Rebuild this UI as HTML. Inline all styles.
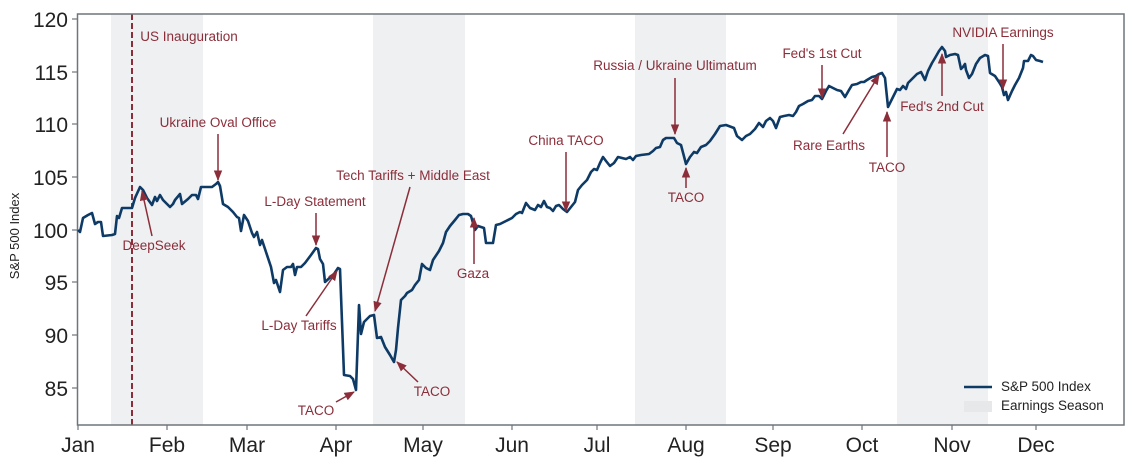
<!DOCTYPE html>
<html><head><meta charset="utf-8"><style>body{margin:0;background:#fff}svg{display:block}text{font-family:"Liberation Sans",sans-serif}</style></head>
<body>
<svg width="1132" height="466" viewBox="0 0 1132 466" xmlns="http://www.w3.org/2000/svg">
<defs><marker id="ah" viewBox="0 0 10 10" refX="9" refY="5" markerWidth="7" markerHeight="7" orient="auto-start-reverse"><path d="M0,1 L10,5 L0,9 z" fill="#8b2e3a"/></marker></defs>
<g fill="#eef0f2">
<rect x="111" y="14" width="92" height="411"/>
<rect x="373" y="14" width="92" height="411"/>
<rect x="635" y="14" width="91" height="411"/>
<rect x="897" y="14" width="91" height="411"/>
</g>
<line x1="132" y1="14" x2="132" y2="425" stroke="#8b2e3a" stroke-width="2" stroke-dasharray="6,3"/>
<rect x="77.5" y="14" width="1046.5" height="411" fill="none" stroke="#6f757b" stroke-width="1.5"/>
<g stroke="#6f757b" stroke-width="1.2">
<line x1="72" y1="19" x2="77" y2="19"/><line x1="72" y1="72" x2="77" y2="72"/><line x1="72" y1="124" x2="77" y2="124"/><line x1="72" y1="177" x2="77" y2="177"/><line x1="72" y1="230" x2="77" y2="230"/><line x1="72" y1="282" x2="77" y2="282"/><line x1="72" y1="335" x2="77" y2="335"/><line x1="72" y1="388" x2="77" y2="388"/>
<line x1="78" y1="425" x2="78" y2="430"/><line x1="167" y1="425" x2="167" y2="430"/><line x1="247" y1="425" x2="247" y2="430"/><line x1="336" y1="425" x2="336" y2="430"/><line x1="423" y1="425" x2="423" y2="430"/><line x1="512" y1="425" x2="512" y2="430"/><line x1="597" y1="425" x2="597" y2="430"/><line x1="686" y1="425" x2="686" y2="430"/><line x1="773" y1="425" x2="773" y2="430"/><line x1="862" y1="425" x2="862" y2="430"/><line x1="952" y1="425" x2="952" y2="430"/><line x1="1036" y1="425" x2="1036" y2="430"/>
</g>
<g font-size="21" fill="#222" text-anchor="end">
<text x="68" y="27">120</text><text x="68" y="80">115</text><text x="68" y="132">110</text><text x="68" y="185">105</text><text x="68" y="238">100</text><text x="68" y="290">95</text><text x="68" y="343">90</text><text x="68" y="396">85</text>
</g>
<g font-size="21" fill="#222" text-anchor="middle">
<text x="78" y="452">Jan</text><text x="167" y="452">Feb</text><text x="247" y="452">Mar</text><text x="336" y="452">Apr</text><text x="423" y="452">May</text><text x="512" y="452">Jun</text><text x="597" y="452">Jul</text><text x="686" y="452">Aug</text><text x="773" y="452">Sep</text><text x="862" y="452">Oct</text><text x="952" y="452">Nov</text><text x="1036" y="452">Dec</text>
</g>
<text transform="translate(19,236) rotate(-90)" font-size="13" fill="#222" text-anchor="middle">S&amp;P 500 Index</text>
<polyline fill="none" stroke="#0e3a66" stroke-width="2.6" stroke-linejoin="round" points="78,230 80,232 83,218 88,215 92,213 95,224 98,222 101,222 103,236 112,235 115,234 117,216 119,218 122,208 128,208 132,208 135,198 140,187 143,190 147,198 152,205 155,197 157,201 160,195 163,200 170,207 173,204 175,200 180,194 182,204 188,199 192,195 196,195 198,199 201,187 210,187 212,187 216,184 218,182 220,186 223,204 228,207 233,212 237,217 239,218 241,231 244,215 248,221 252,233 254,237 257,232 260,245 262,240 266,252 271,267 274,283 276,280 280,292 283,270 287,267 291,267 293,264 295,275 297,267 301,267 305,263 311,255 316,248 318,249 320,259 323,264 325,282 334,274 338,268 340,269 344,375 350,376 353,379 356,390 359,305 361,334 364,322 370,316 374,315 377,338 381,337 385,347 390,355 394,362 396,350 398,328 401,300 405,296 407,293 412,290 415,285 419,280 422,264 426,268 430,270 433,260 439,251 443,243 446,232 450,226 455,220 459,215 463,214 468,214 471,216 475,230 478,226 484,228 486,243 493,243 496,225 500,224 504,222 506,221 512,218 516,214 520,212 522,213 526,203 530,208 535,210 538,205 541,207 544,201 547,207 550,208 553,211 556,206 559,205 563,209 567,212 571,207 575,202 578,190 582,185 587,180 591,172 594,169 597,170 600,163 603,157 606,161 610,166 614,163 618,157 622,158 626,159 630,157 633,160 636,156 641,155 649,154 653,151 656,148 660,147 663,140 666,138 674,138 677,143 681,145 686,164 690,157 694,152 697,153 701,147 706,145 710,141 715,134 720,126 726,125 734,128 737,136 742,140 746,136 750,134 755,129 759,123 763,127 766,121 770,118 773,121 776,128 780,117 784,116 789,115 793,116 796,112 799,106 803,104 808,101 812,100 815,96 819,96 822,99 826,91 829,86 833,88 837,90 841,91 845,97 849,90 852,85 857,84 861,82 864,82 867,80 872,77 876,76 879,74 882,73 885,78 888,107 893,97 897,89 900,90 903,86 906,89 908,83 912,79 917,74 921,72 925,80 928,71 932,63 935,58 939,51 942,47 945,51 946,57 950,55 955,54 958,55 961,69 963,67 965,64 966,70 969,78 972,74 976,64 980,58 985,55 988,56 990,73 995,76 999,82 1002,87 1004,95 1006,92 1008,100 1012,91 1015,85 1019,78 1023,68 1024,61 1028,61 1031,55 1033,56 1036,60 1040,61 1043,62"/>
<g stroke="#8b2e3a" stroke-width="1.5" fill="none" marker-end="url(#ah)">
<line x1="218" y1="134" x2="218" y2="180"/>
<line x1="152" y1="236" x2="142" y2="191"/>
<line x1="316" y1="213" x2="316" y2="245"/>
<line x1="410" y1="187" x2="375" y2="311"/>
<line x1="306" y1="316" x2="337" y2="271"/>
<line x1="336" y1="402" x2="354" y2="392"/>
<line x1="418" y1="382" x2="397" y2="362"/>
<line x1="474" y1="264" x2="474" y2="218"/>
<line x1="566" y1="152" x2="566" y2="211"/>
<line x1="675" y1="78" x2="675" y2="134"/>
<line x1="686" y1="188" x2="686" y2="168"/>
<line x1="822" y1="65" x2="822" y2="98"/>
<line x1="843" y1="134" x2="879" y2="75"/>
<line x1="887" y1="157" x2="887" y2="112"/>
<line x1="942" y1="96" x2="942" y2="54"/>
<line x1="1003" y1="44" x2="1003" y2="89"/>
</g>
<g font-size="13.5" fill="#8b2e3a" text-anchor="middle">
<text x="189" y="41">US Inauguration</text>
<text x="218" y="127">Ukraine Oval Office</text>
<text x="154" y="250">DeepSeek</text>
<text x="315" y="206">L-Day Statement</text>
<text x="413" y="180">Tech Tariffs + Middle East</text>
<text x="299" y="330">L-Day Tariffs</text>
<text x="316" y="415">TACO</text>
<text x="432" y="396">TACO</text>
<text x="473" y="278">Gaza</text>
<text x="566" y="145">China TACO</text>
<text x="675" y="70">Russia / Ukraine Ultimatum</text>
<text x="686" y="202">TACO</text>
<text x="822" y="58">Fed's 1st Cut</text>
<text x="829" y="150">Rare Earths</text>
<text x="887" y="172">TACO</text>
<text x="942" y="111">Fed's 2nd Cut</text>
<text x="1003" y="37">NVIDIA Earnings</text>
</g>
<line x1="964" y1="387" x2="992" y2="387" stroke="#0e3a66" stroke-width="2.6"/>
<text x="1001" y="391" font-size="13.5" fill="#222">S&amp;P 500 Index</text>
<rect x="964" y="401" width="28" height="11" fill="#e6e8ea"/>
<text x="1001" y="410" font-size="13.5" fill="#222">Earnings Season</text>
</svg>
</body></html>
